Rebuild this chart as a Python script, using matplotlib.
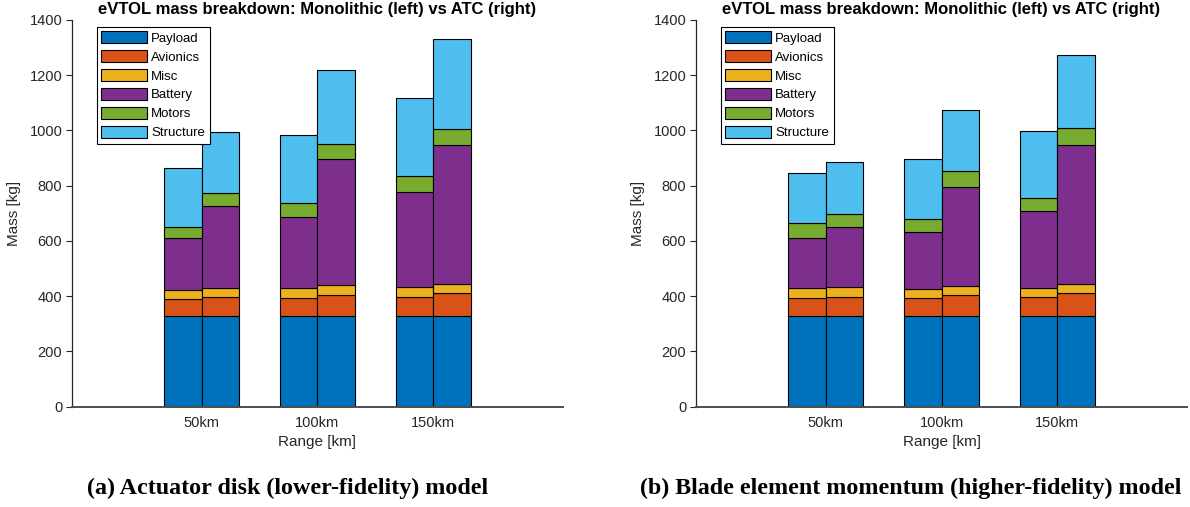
import numpy as np
import matplotlib
matplotlib.use("Agg")
import matplotlib.pyplot as plt

# ---------------------------------------------------------------------------
# Data (component masses in kg)
# ---------------------------------------------------------------------------

RANGES = ["50km", "100km", "150km"]
COMPONENTS = ["Payload", "Avionics", "Misc", "Battery", "Motors", "Structure"]
COLORS = ["#0072BD", "#D95319", "#EDB120", "#7E2F8E", "#77AC30", "#4DBEEE"]

# (a) actuator disk model
ad_mono = {
    "Payload": [330, 330, 330],
    "Avionics": [60, 65, 68],
    "Misc": [34, 35, 35],
    "Battery": [186, 257, 344],
    "Motors": [40, 51, 57],
    "Structure": [215, 247, 284],
}
ad_atc = {
    "Payload": [330, 330, 330],
    "Avionics": [67, 75, 80],
    "Misc": [34, 35, 35],
    "Battery": [296, 455, 502],
    "Motors": [48, 57, 59],
    "Structure": [220, 266, 324],
}

# (b) blade element momentum model
bem_mono = {
    "Payload": [330, 330, 330],
    "Avionics": [62, 62, 66],
    "Misc": [36, 35, 35],
    "Battery": [184, 204, 279],
    "Motors": [52, 47, 45],
    "Structure": [181, 217, 243],
}
bem_atc = {
    "Payload": [330, 330, 330],
    "Avionics": [66, 73, 80],
    "Misc": [36, 34, 34],
    "Battery": [218, 359, 504],
    "Motors": [47, 56, 61],
    "Structure": [188, 223, 264],
}

TITLE = "eVTOL mass breakdown: Monolithic (left) vs ATC (right)"
CAPTIONS = [
    "(a) Actuator disk (lower-fidelity) model",
    "(b) Blade element momentum (higher-fidelity) model",
]

BAR_W = 0.325
SANS = ["Liberation Sans", "DejaVu Sans"]
SERIF = ["Liberation Serif", "DejaVu Serif"]
TXT = "#262626"


def stacked(ax, x, data, label=True):
    bottom = np.zeros(len(x))
    for name, color in zip(COMPONENTS, COLORS):
        vals = np.array(data[name], dtype=float)
        ax.bar(x, vals, BAR_W, bottom=bottom, color=color,
               edgecolor="black", linewidth=0.8,
               label=name if label else None, zorder=2)
        bottom += vals


def draw_panel(ax, mono, atc):
    x = np.arange(1, len(RANGES) + 1)
    stacked(ax, x - BAR_W / 2, mono, label=True)
    stacked(ax, x + BAR_W / 2, atc, label=False)

    ax.set_xlim(-0.12, 4.12)
    ax.set_ylim(0, 1400)
    ax.set_yticks(np.arange(0, 1401, 200))
    ax.set_xticks(x)
    ax.set_xticklabels(RANGES)

    for side in ("top", "right"):
        ax.spines[side].set_visible(False)
    ax.spines["left"].set_color(TXT)
    ax.spines["bottom"].set_color("#4d4d4d")
    ax.spines["left"].set_linewidth(0.9)
    ax.spines["bottom"].set_linewidth(1.4)
    ax.tick_params(axis="y", direction="out", length=4, width=0.8,
                   colors=TXT, labelsize=10.5, pad=3)
    ax.tick_params(axis="x", length=0, colors=TXT, labelsize=10.5, pad=7)
    for lab in ax.get_xticklabels() + ax.get_yticklabels():
        lab.set_family(SANS)

    ax.set_xlabel("Range [km]", fontsize=11, color=TXT, family=SANS,
                  labelpad=3)
    ax.set_ylabel("Mass [kg]", fontsize=11, color=TXT, family=SANS,
                  labelpad=6)
    ax.set_title(TITLE, fontsize=12, fontweight="bold", family=SANS,
                 color="black", pad=4)

    leg = ax.legend(loc="upper left", bbox_to_anchor=(0.05, 0.983),
                    borderaxespad=0, fancybox=False, framealpha=1,
                    edgecolor="black", handlelength=3.5,
                    handleheight=1.0, handletextpad=0.3, labelspacing=0.42,
                    borderpad=0.35, prop={"family": SANS, "size": 9.5})
    leg.get_frame().set_linewidth(0.8)


fig = plt.figure(figsize=(11.9, 5.07), dpi=100)
ax_a = fig.add_axes([0.0605, 0.1978, 0.4126, 0.7628])
ax_b = fig.add_axes([0.5849, 0.1978, 0.4126, 0.7628])

draw_panel(ax_a, ad_mono, ad_atc)
draw_panel(ax_b, bem_mono, bem_atc)

fig.text(0.242, 0.037, CAPTIONS[0], ha="center", va="center",
         fontsize=17.3, fontweight="bold", family=SERIF)
fig.text(0.765, 0.037, CAPTIONS[1], ha="center", va="center",
         fontsize=17.3, fontweight="bold", family=SERIF)

fig.savefig("out.png", dpi=100)
